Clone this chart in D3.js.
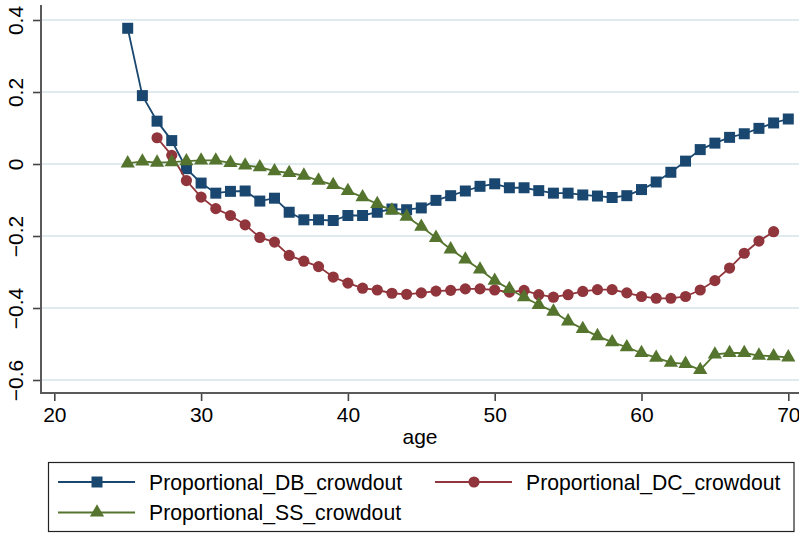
<!DOCTYPE html>
<html><head><meta charset="utf-8">
<script src="https://cdn.jsdelivr.net/npm/d3@7"></script>
<style>
html,body{margin:0;padding:0;background:#fff;}
svg{display:block;font-family:"Liberation Sans",Arial,Helvetica,sans-serif;}
</style></head>
<body>
<svg id="chart" width="799" height="534"></svg>
<script>
const dbAges = d3.range(25, 71);
const dbValues = [0.377,0.190,0.119,0.065,-0.013,-0.053,-0.081,-0.076,-0.075,-0.103,
  -0.095,-0.134,-0.155,-0.155,-0.157,-0.143,-0.143,-0.134,-0.125,-0.127,
  -0.122,-0.101,-0.088,-0.075,-0.062,-0.055,-0.066,-0.066,-0.074,-0.081,
  -0.081,-0.086,-0.089,-0.093,-0.088,-0.071,-0.050,-0.023,0.008,0.040,
  0.058,0.074,0.084,0.099,0.114,0.125];
const dcAges = d3.range(27, 70);
const dcValues = [0.073,0.024,-0.046,-0.092,-0.124,-0.143,-0.169,-0.204,-0.217,-0.254,
  -0.270,-0.285,-0.314,-0.331,-0.345,-0.350,-0.359,-0.362,-0.358,-0.353,
  -0.351,-0.347,-0.347,-0.350,-0.356,-0.351,-0.363,-0.370,-0.363,-0.354,
  -0.349,-0.349,-0.358,-0.368,-0.373,-0.373,-0.368,-0.350,-0.324,-0.289,
  -0.248,-0.214,-0.188];
const ssAges = d3.range(25, 71);
const ssValues = [0.002,0.007,0.004,0.005,0.008,0.010,0.010,0.003,-0.004,-0.009,
  -0.020,-0.025,-0.032,-0.046,-0.058,-0.075,-0.092,-0.111,-0.129,-0.146,
  -0.174,-0.205,-0.237,-0.265,-0.293,-0.324,-0.347,-0.370,-0.391,-0.410,
  -0.437,-0.458,-0.478,-0.495,-0.509,-0.525,-0.538,-0.552,-0.555,-0.572,
  -0.529,-0.525,-0.525,-0.532,-0.534,-0.537];
const xTicks = [20,30,40,50,60,70];
const yTicks = [-0.6,-0.4,-0.2,0,0.2,0.4];
const yTickLabels = ["\u22120.6","\u22120.4","\u22120.2","0","0.2","0.4"];
const seriesNames = ["Proportional_DB_crowdout","Proportional_DC_crowdout","Proportional_SS_crowdout"];
const seriesColors = ["#1a476f","#90353b","#55752f"];

const svg = d3.select("#chart");
const x = d3.scaleLinear().domain([20,70]).range([54.3,788.3]);
const y = d3.scaleLinear().domain([-0.6,0.4]).range([380,20]);
const axisX0 = 41, axisY0 = 393;

// gridlines
svg.append("g").selectAll("line").data(yTicks).join("line")
  .attr("x1", axisX0).attr("x2", 799)
  .attr("y1", d=>y(d)).attr("y2", d=>y(d))
  .attr("stroke","#d5e4e8").attr("stroke-width",1.6);

// y axis
const gy = svg.append("g").attr("transform",`translate(${axisX0},0)`)
  .call(d3.axisLeft(y).tickValues(yTicks).tickSize(8).tickFormat((d,i)=>yTickLabels[i]));
gy.select(".domain").remove();
gy.selectAll(".tick line").attr("stroke","#444").attr("stroke-width",1.6);
gy.selectAll(".tick text").attr("font-size",21).attr("fill","#000")
  .attr("font-family","Liberation Sans, Arial, sans-serif")
  .attr("text-anchor","middle").attr("dy",0)
  .attr("transform","translate(-18.5,0) rotate(-90)")
  .attr("x",0).attr("y",0);
svg.append("line").attr("x1",axisX0).attr("x2",axisX0).attr("y1",5).attr("y2",axisY0+1)
  .attr("stroke","#5a5a5a").attr("stroke-width",2);

// x axis
const gx = svg.append("g").attr("transform",`translate(0,${axisY0})`)
  .call(d3.axisBottom(x).tickValues(xTicks).tickSize(8).tickFormat(d3.format("d")));
gx.select(".domain").remove();
gx.selectAll(".tick line").attr("stroke","#444").attr("stroke-width",1.6);
gx.selectAll(".tick text").attr("font-size",21).attr("fill","#000")
  .attr("font-family","Liberation Sans, Arial, sans-serif")
  .attr("y",28.5).attr("dy",0);
svg.append("line").attr("x1",axisX0-1).attr("x2",799).attr("y1",axisY0).attr("y2",axisY0)
  .attr("stroke","#5a5a5a").attr("stroke-width",2);

svg.append("text").attr("x",(axisX0+799)/2).attr("y",444).attr("text-anchor","middle")
  .attr("font-size",21).text("age");

// series
const symbols = [d3.symbolSquare, d3.symbolCircle, d3.symbolTriangle];
const symSizes = [121, 98, 88];
const data = [
  dbAges.map((a,i)=>[a,dbValues[i]]),
  dcAges.map((a,i)=>[a,dcValues[i]]),
  ssAges.map((a,i)=>[a,ssValues[i]])
];
const line = d3.line().x(d=>x(d[0])).y(d=>y(d[1]));
data.forEach((pts,k)=>{
  const g = svg.append("g");
  g.append("path").datum(pts).attr("d",line).attr("fill","none")
    .attr("stroke",seriesColors[k]).attr("stroke-width",1.8);
  g.selectAll("path.m").data(pts).join("path").attr("class","m")
    .attr("d", d3.symbol().type(symbols[k]).size(symSizes[k]))
    .attr("transform",d=>`translate(${x(d[0])},${y(d[1])})`)
    .attr("fill",seriesColors[k]);
});

// legend
const lg = svg.append("g");
lg.append("rect").attr("x",48.5).attr("y",462.5).attr("width",745.5).attr("height",69)
  .attr("fill","#fff").attr("stroke","#222").attr("stroke-width",1.2);
const legendPos = [[58,482],[435,482],[58,512.5]];
seriesNames.forEach((name,k)=>{
  const [lx,ly] = legendPos[k];
  lg.append("line").attr("x1",lx).attr("x2",lx+77).attr("y1",ly).attr("y2",ly)
    .attr("stroke",seriesColors[k]).attr("stroke-width",1.8);
  lg.append("path").attr("d", d3.symbol().type(symbols[k]).size(symSizes[k]))
    .attr("transform",`translate(${lx+39},${ly})`).attr("fill",seriesColors[k]);
  lg.append("text").attr("x",lx+91).attr("y",ly+7.5).attr("font-size",21.2)
    .attr("fill","#000").text(name);
});
</script>
</body></html>
